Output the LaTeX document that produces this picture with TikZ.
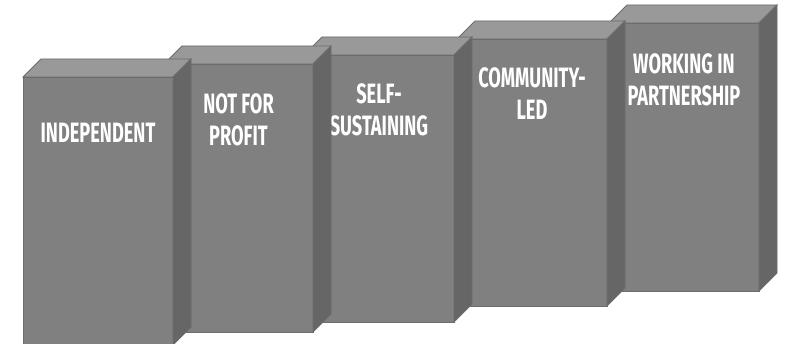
\documentclass[tikz,border=0pt]{standalone}
\usepackage{fontspec}
\newfontfamily\pillarfont[FakeStretch=0.65]{Fira Sans}
\definecolor{frontgrey}{RGB}{128,128,128}
\definecolor{topgrey}{RGB}{153,153,153}
\definecolor{sidegrey}{RGB}{102,102,102}
\definecolor{edgegrey}{RGB}{108,108,108}
\tikzset{every picture/.style={line width=0.75pt}}

\begin{document}
\begin{tikzpicture}[x=1pt,y=1pt,yscale=-1,xscale=1,
	frontface/.style={draw=edgegrey,fill=frontgrey},
	topface/.style={draw=edgegrey,fill=topgrey},
	sideface/.style={draw=edgegrey,fill=sidegrey},
	pillarlabel/.style={text=white,align=center,font=\pillarfont\bfseries\fontsize{28}{32}\selectfont}]
	\useasboundingbox (0,0) rectangle (787,344);

	%Shape: Box (working in partnership)
	\draw [frontface] (609,23) rectangle (759,291) ;
	\draw [topface] (609,23) -- (627,5) -- (777,5) -- (759,23) -- cycle ;
	\draw [sideface] (759,23) -- (777,5) -- (777,273) -- (759,291) -- cycle ;
	% Text Node
	\draw (684,80) node [pillarlabel] (partner) {WORKING IN\\PARTNERSHIP};

	%Shape: Box (community-led)
	\draw [frontface] (457,39) rectangle (607,306) ;
	\draw [topface] (457,39) -- (475,21) -- (625,21) -- (607,39) -- cycle ;
	\draw [sideface] (607,39) -- (625,21) -- (625,288) -- (607,306) -- cycle ;
	% Text Node
	\draw (532,94) node [pillarlabel] (community) {COMMUNITY-\\LED};

	%Shape: Box (self-sustaining)
	\draw [frontface] (304,55) rectangle (454,322) ;
	\draw [topface] (304,55) -- (322,37) -- (472,37) -- (454,55) -- cycle ;
	\draw [sideface] (454,55) -- (472,37) -- (472,304) -- (454,322) -- cycle ;
	% Text Node
	\draw (379,110) node [pillarlabel] (selfsust) {SELF-\\SUSTAINING};

	%Shape: Box (not for profit)
	\draw [frontface] (164,64) rectangle (313,332) ;
	\draw [topface] (164,64) -- (182,46) -- (331,46) -- (313,64) -- cycle ;
	\draw [sideface] (313,64) -- (331,46) -- (331,314) -- (313,332) -- cycle ;
	% Text Node
	\draw (238.5,120) node [pillarlabel] (notprofit) {NOT FOR\\PROFIT};

	%Shape: Box (independent)
	\draw [frontface] (23,77) rectangle (173,345) ;
	\draw [topface] (23,77) -- (41,59) -- (191,59) -- (173,77) -- cycle ;
	\draw [sideface] (173,77) -- (191,59) -- (191,327) -- (173,345) -- cycle ;
	% Text Node
	\draw (98,133) node [pillarlabel] (independent) {INDEPENDENT};

\end{tikzpicture}
\end{document}
